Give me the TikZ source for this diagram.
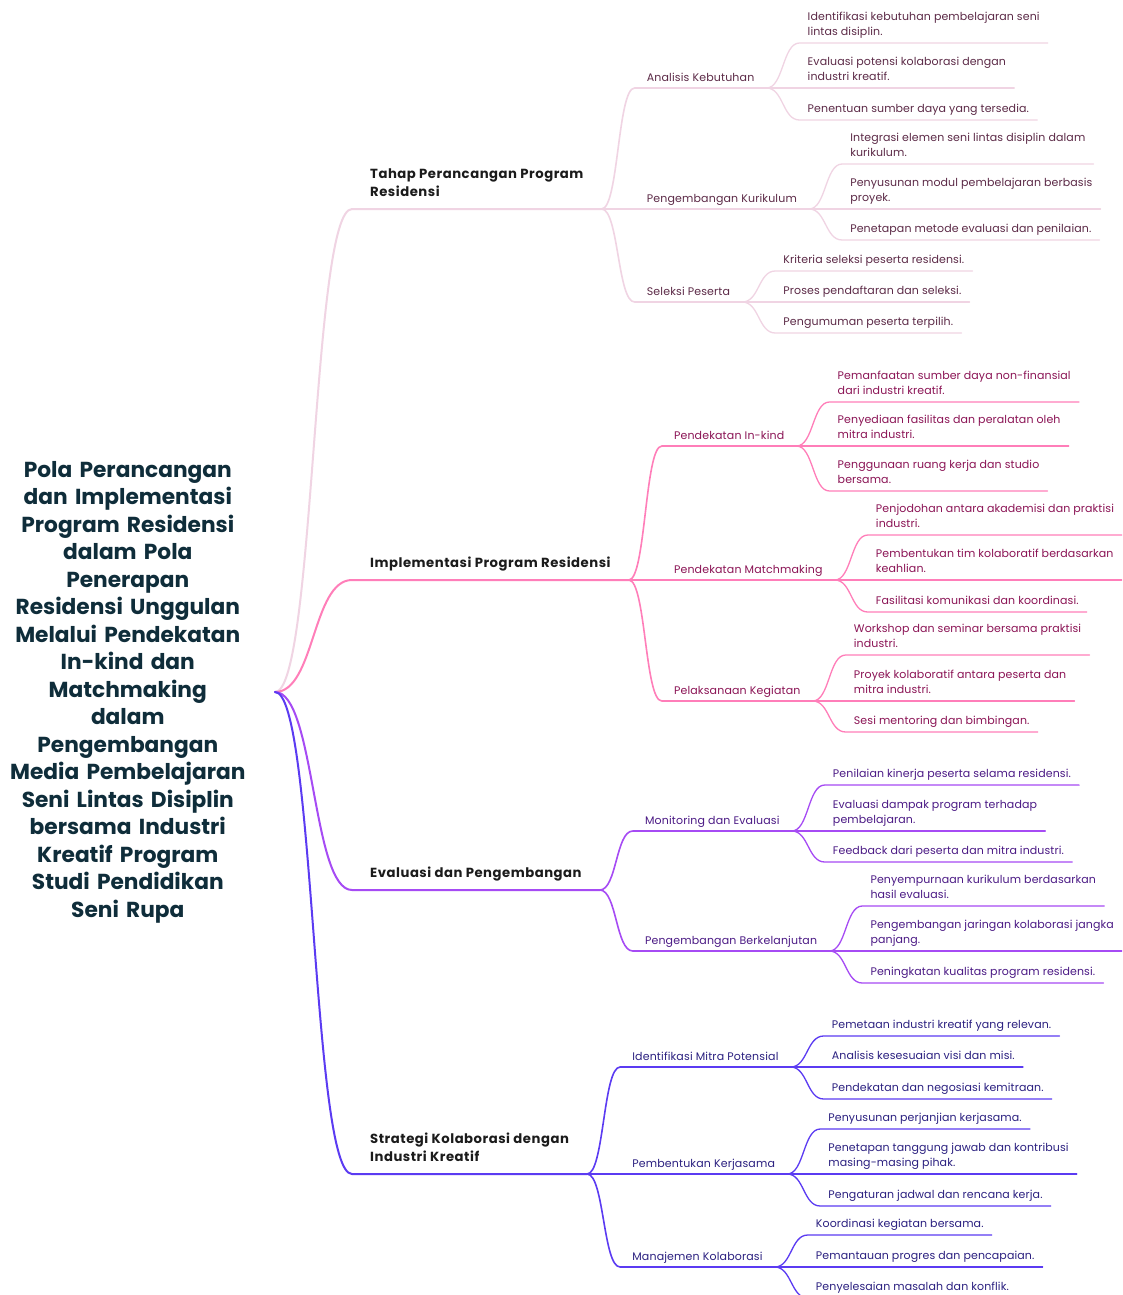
\documentclass[tikz,border=0pt]{standalone}
\usepackage{fontspec}
\setmainfont{Poppins}
\definecolor{rootcol}{HTML}{0F2D3A}
\definecolor{lonecol}{HTML}{1B1B1B}
\definecolor{lineA}{HTML}{F0D4E3}
\definecolor{textA}{HTML}{5C2A47}
\definecolor{lineB}{HTML}{FF7EB9}
\definecolor{textB}{HTML}{8B1455}
\definecolor{lineC}{HTML}{A64BF4}
\definecolor{textC}{HTML}{4B1A85}
\definecolor{lineD}{HTML}{5B3BF2}
\definecolor{textD}{HTML}{2B2080}
\newcommand{\mmlink}[4]{\draw[#1] (#2) .. controls +(#4,0) and +(-#4,0) .. (#3.south west) -- (#3.south east);}
\tikzset{
  lab/.style={anchor=south west, align=left, execute at end node=\strut},
  lone/.style={lab, font=\fontsize{13.2}{18}\selectfont\bfseries\addfontfeatures{LetterSpace=4}, text=lonecol, inner xsep=18pt, inner ysep=7pt},
  ltwo/.style={lab, font=\fontsize{11}{15}\selectfont\addfontfeatures{LetterSpace=1.5}, inner xsep=12pt, inner ysep=2.2pt},
  leaf/.style={lab, font=\fontsize{11}{15}\selectfont\addfontfeatures{LetterSpace=1}, inner xsep=8pt, inner ysep=2.7pt},
  wA/.style={line width=2pt, line cap=round},
  wB/.style={line width=1.6pt, line cap=round},
  wC/.style={line width=1.3pt, line cap=round},
}
\begin{document}
\begin{tikzpicture}[x=1pt,y=-1pt]
\useasboundingbox[fill=white] (0,0) rectangle (1122,1295);
\clip (0,0) rectangle (1122,1295);
% root
\node[anchor=east, text width=240pt, align=center, inner xsep=27pt, text=rootcol,
  font=\fontsize{21.7}{27.5}\selectfont\bfseries] (root) at (275,692)
  {Pola Perancangan\\dan Implementasi\\Program Residensi\\dalam Pola\\Penerapan\\Residensi Unggulan\\Melalui Pendekatan\\In-kind dan\\Matchmaking\\dalam\\Pengembangan\\Media Pembelajaran\\Seni Lintas Disiplin\\bersama Industri\\Kreatif Program\\Studi Pendidikan\\Seni Rupa};
% level 1
\node[lone] (t1) at ([xshift=77pt]root.east |- 0,209) {Tahap Perancangan Program\\Residensi};
\node[lone] (t2) at ([xshift=77pt]root.east |- 0,580) {Implementasi Program Residensi};
\node[lone] (t3) at ([xshift=77pt]root.east |- 0,890) {Evaluasi dan Pengembangan};
\node[lone] (t4) at ([xshift=77pt]root.east |- 0,1174) {Strategi Kolaborasi dengan\\Industri Kreatif};
% level 2
\node[ltwo, text=textA] (a1) at ([xshift=33pt]t1.south east |- 0,88) {Analisis Kebutuhan};
\node[ltwo, text=textA] (a2) at ([xshift=33pt]t1.south east |- 0,209) {Pengembangan Kurikulum};
\node[ltwo, text=textA] (a3) at ([xshift=33pt]t1.south east |- 0,302) {Seleksi Peserta};
\node[ltwo, text=textB] (b1) at ([xshift=33pt]t2.south east |- 0,446) {Pendekatan In-kind};
\node[ltwo, text=textB] (b2) at ([xshift=33pt]t2.south east |- 0,580) {Pendekatan Matchmaking};
\node[ltwo, text=textB] (b3) at ([xshift=33pt]t2.south east |- 0,701) {Pelaksanaan Kegiatan};
\node[ltwo, text=textC] (c1) at ([xshift=33pt]t3.south east |- 0,831) {Monitoring dan Evaluasi};
\node[ltwo, text=textC] (c2) at ([xshift=33pt]t3.south east |- 0,951) {Pengembangan Berkelanjutan};
\node[ltwo, text=textD] (d1) at ([xshift=33pt]t4.south east |- 0,1067) {Identifikasi Mitra Potensial};
\node[ltwo, text=textD] (d2) at ([xshift=33pt]t4.south east |- 0,1174) {Pembentukan Kerjasama};
\node[ltwo, text=textD] (d3) at ([xshift=33pt]t4.south east |- 0,1267) {Manajemen Kolaborasi};
% leaves A
\node[leaf, text=textA] (a1x) at ([xshift=33pt]a1.south east |- 0,43) {Identifikasi kebutuhan pembelajaran seni\\lintas disiplin.};
\node[leaf, text=textA] (a1y) at ([xshift=33pt]a1.south east |- 0,88) {Evaluasi potensi kolaborasi dengan\\industri kreatif.};
\node[leaf, text=textA] (a1z) at ([xshift=33pt]a1.south east |- 0,120) {Penentuan sumber daya yang tersedia.};
\node[leaf, text=textA] (a2x) at ([xshift=33pt]a2.south east |- 0,164) {Integrasi elemen seni lintas disiplin dalam\\kurikulum.};
\node[leaf, text=textA] (a2y) at ([xshift=33pt]a2.south east |- 0,209) {Penyusunan modul pembelajaran berbasis\\proyek.};
\node[leaf, text=textA] (a2z) at ([xshift=33pt]a2.south east |- 0,240) {Penetapan metode evaluasi dan penilaian.};
\node[leaf, text=textA] (a3x) at ([xshift=33pt]a3.south east |- 0,271) {Kriteria seleksi peserta residensi.};
\node[leaf, text=textA] (a3y) at ([xshift=33pt]a3.south east |- 0,302) {Proses pendaftaran dan seleksi.};
\node[leaf, text=textA] (a3z) at ([xshift=33pt]a3.south east |- 0,333) {Pengumuman peserta terpilih.};
% leaves B
\node[leaf, text=textB] (b1x) at ([xshift=33pt]b1.south east |- 0,402) {Pemanfaatan sumber daya non-finansial\\dari industri kreatif.};
\node[leaf, text=textB] (b1y) at ([xshift=33pt]b1.south east |- 0,446) {Penyediaan fasilitas dan peralatan oleh\\mitra industri.};
\node[leaf, text=textB] (b1z) at ([xshift=33pt]b1.south east |- 0,491) {Penggunaan ruang kerja dan studio\\bersama.};
\node[leaf, text=textB] (b2x) at ([xshift=33pt]b2.south east |- 0,535) {Penjodohan antara akademisi dan praktisi\\industri.};
\node[leaf, text=textB] (b2y) at ([xshift=33pt]b2.south east |- 0,580) {Pembentukan tim kolaboratif berdasarkan\\keahlian.};
\node[leaf, text=textB] (b2z) at ([xshift=33pt]b2.south east |- 0,612) {Fasilitasi komunikasi dan koordinasi.};
\node[leaf, text=textB] (b3x) at ([xshift=33pt]b3.south east |- 0,655) {Workshop dan seminar bersama praktisi\\industri.};
\node[leaf, text=textB] (b3y) at ([xshift=33pt]b3.south east |- 0,701) {Proyek kolaboratif antara peserta dan\\mitra industri.};
\node[leaf, text=textB] (b3z) at ([xshift=33pt]b3.south east |- 0,732) {Sesi mentoring dan bimbingan.};
% leaves C
\node[leaf, text=textC] (c1x) at ([xshift=33pt]c1.south east |- 0,785) {Penilaian kinerja peserta selama residensi.};
\node[leaf, text=textC] (c1y) at ([xshift=33pt]c1.south east |- 0,831) {Evaluasi dampak program terhadap\\pembelajaran.};
\node[leaf, text=textC] (c1z) at ([xshift=33pt]c1.south east |- 0,862) {Feedback dari peserta dan mitra industri.};
\node[leaf, text=textC] (c2x) at ([xshift=33pt]c2.south east |- 0,906) {Penyempurnaan kurikulum berdasarkan\\hasil evaluasi.};
\node[leaf, text=textC] (c2y) at ([xshift=33pt]c2.south east |- 0,951) {Pengembangan jaringan kolaborasi jangka\\panjang.};
\node[leaf, text=textC] (c2z) at ([xshift=33pt]c2.south east |- 0,983) {Peningkatan kualitas program residensi.};
% leaves D
\node[leaf, text=textD] (d1x) at ([xshift=33pt]d1.south east |- 0,1036) {Pemetaan industri kreatif yang relevan.};
\node[leaf, text=textD] (d1y) at ([xshift=33pt]d1.south east |- 0,1067) {Analisis kesesuaian visi dan misi.};
\node[leaf, text=textD] (d1z) at ([xshift=33pt]d1.south east |- 0,1099) {Pendekatan dan negosiasi kemitraan.};
\node[leaf, text=textD] (d2x) at ([xshift=33pt]d2.south east |- 0,1129) {Penyusunan perjanjian kerjasama.};
\node[leaf, text=textD] (d2y) at ([xshift=33pt]d2.south east |- 0,1174) {Penetapan tanggung jawab dan kontribusi\\masing-masing pihak.};
\node[leaf, text=textD] (d2z) at ([xshift=33pt]d2.south east |- 0,1206) {Pengaturan jadwal dan rencana kerja.};
\node[leaf, text=textD] (d3x) at ([xshift=33pt]d3.south east |- 0,1235) {Koordinasi kegiatan bersama.};
\node[leaf, text=textD] (d3y) at ([xshift=33pt]d3.south east |- 0,1267) {Pemantauan progres dan pencapaian.};
\node[leaf, text=textD] (d3z) at ([xshift=33pt]d3.south east |- 0,1298) {Penyelesaian masalah dan konflik.};
% connectors A
\mmlink{wA, lineA}{root.east}{t1}{40}
\foreach \p in {a1,a2,a3} {\mmlink{wB, lineA}{t1.south east}{\p}{17}}
\foreach \p/\c in {a1/a1x,a1/a1y,a1/a1z,a2/a2x,a2/a2y,a2/a2z,a3/a3x,a3/a3y,a3/a3z} {\mmlink{wC, lineA}{\p.south east}{\c}{17}}
% connectors B
\mmlink{wA, lineB}{root.east}{t2}{40}
\foreach \p in {b1,b2,b3} {\mmlink{wB, lineB}{t2.south east}{\p}{17}}
\foreach \p/\c in {b1/b1x,b1/b1y,b1/b1z,b2/b2x,b2/b2y,b2/b2z,b3/b3x,b3/b3y,b3/b3z} {\mmlink{wC, lineB}{\p.south east}{\c}{17}}
% connectors C
\mmlink{wA, lineC}{root.east}{t3}{40}
\foreach \p in {c1,c2} {\mmlink{wB, lineC}{t3.south east}{\p}{17}}
\foreach \p/\c in {c1/c1x,c1/c1y,c1/c1z,c2/c2x,c2/c2y,c2/c2z} {\mmlink{wC, lineC}{\p.south east}{\c}{17}}
% connectors D
\mmlink{wA, lineD}{root.east}{t4}{40}
\foreach \p in {d1,d2,d3} {\mmlink{wB, lineD}{t4.south east}{\p}{17}}
\foreach \p/\c in {d1/d1x,d1/d1y,d1/d1z,d2/d2x,d2/d2y,d2/d2z,d3/d3x,d3/d3y,d3/d3z} {\mmlink{wC, lineD}{\p.south east}{\c}{17}}
\end{tikzpicture}
\end{document}
